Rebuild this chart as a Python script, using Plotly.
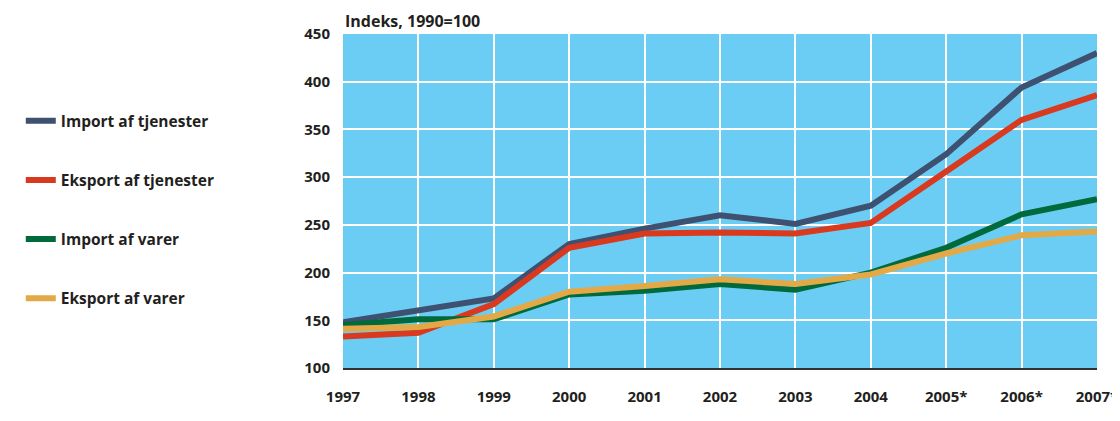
import plotly.graph_objects as go

years = ["1997", "1998", "1999", "2000", "2001", "2002", "2003", "2004", "2005*", "2006*", "2007*"]
import_tjenester = [148, 161, 173, 230, 246, 260, 251, 270, 324, 394, 430]
eksport_tjenester = [133, 137, 167, 226, 241, 242, 241, 252, 306, 360, 386]
import_varer = [145, 151, 151, 177, 181, 188, 182, 200, 226, 261, 277]
eksport_varer = [141, 143, 154, 180, 186, 193, 188, 198, 220, 239, 243]

series = [
    ("Import af tjenester", import_tjenester, "#3f5170"),
    ("Eksport af tjenester", eksport_tjenester, "#d9391f"),
    ("Import af varer", import_varer, "#006a3d"),
    ("Eksport af varer", eksport_varer, "#e4a947"),
]

fig = go.Figure()
for i, (name, vals, col) in enumerate(series):
    fig.add_trace(go.Scatter(
        x=years, y=vals, name=name, mode="lines",
        line=dict(color=col, width=6),
        legendgroup=f"g{i}",
    ))

font_fam = "Open Sans"
txt_col = "#231f20"
# page body has an 8px default margin, so the figure is 8px smaller than the window
fig.update_layout(
    width=1112, height=413,
    margin=dict(l=335, r=23, t=26, b=53),
    paper_bgcolor="white",
    plot_bgcolor="#6bcdf4",
    font=dict(family=font_fam, size=15, color=txt_col),
    legend=dict(
        xref="container", yref="container",
        x=0.0115, y=0.767, xanchor="left", yanchor="top",
        tracegroupgap=36,
        maxheight=320,
        font=dict(family=font_fam, size=15.5, color=txt_col, weight="bold"),
        itemwidth=30,
        bgcolor="rgba(0,0,0,0)",
    ),
    xaxis=dict(
        type="category", range=[0, 10],
        showgrid=True, gridcolor="white", gridwidth=2,
        showline=True, linecolor="#333333", linewidth=2,
        zeroline=False, ticks="", automargin=False,
        tickfont=dict(family=font_fam, size=15, weight="bold", color=txt_col),
        ticklabelstandoff=14,
    ),
    yaxis=dict(
        range=[100, 450], dtick=50, tick0=100,
        showgrid=True, gridcolor="white", gridwidth=2,
        zeroline=False, showline=False, ticks="", automargin=False,
        tickfont=dict(family=font_fam, size=15, weight="bold", color=txt_col),
        ticklabelstandoff=12,
    ),
    annotations=[dict(
        text="Indeks, 1990=100", xref="paper", yref="paper",
        x=0.0, y=1.0, xanchor="left", yanchor="bottom", yshift=0,
        showarrow=False,
        font=dict(family=font_fam, size=16, weight="bold", color=txt_col),
    )],
)

fig.write_html("out.html")
